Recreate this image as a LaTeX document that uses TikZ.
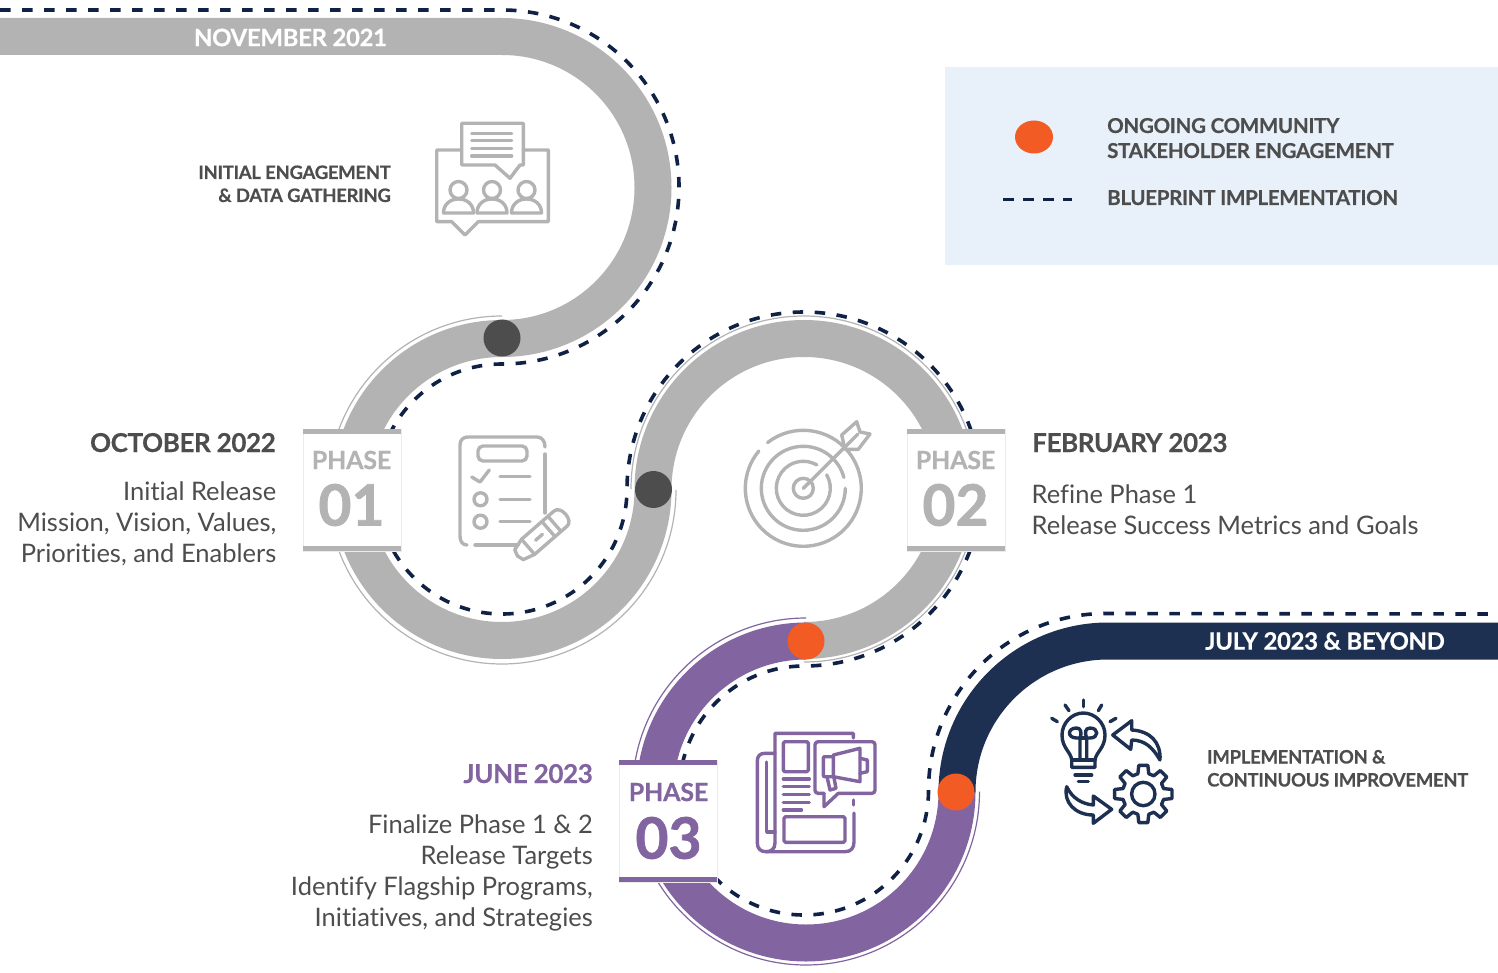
\documentclass[tikz,border=0pt]{standalone}
\usepackage{fontspec}
\setmainfont{Lato}[RawFeature={-liga}]
\newfontfamily\boldface[FakeBold=1.3]{Lato Bold}
\newfontfamily\heavytext[FakeBold=0.45,LetterSpace=-1.5]{Lato Bold}
\newfontfamily\heavytight[FakeBold=0.45,LetterSpace=-0.8]{Lato Bold}
\usetikzlibrary{calc,shapes.geometric}
\definecolor{bandgray}{HTML}{B3B3B3}
\definecolor{bandpurple}{HTML}{8264A0}
\definecolor{bandnavy}{HTML}{1D3052}
\definecolor{dashnavy}{HTML}{0F2145}
\definecolor{dotorange}{HTML}{F35B25}
\definecolor{dotdark}{HTML}{4D4D4D}
\definecolor{legendbg}{HTML}{E8F0FA}
\definecolor{textgray}{HTML}{4D4D4D}
\tikzset{
  x=1pt,y=-1pt,
  band/.style={line width=37pt},
  hairline/.style={line width=1.2pt},
  route/.style={line width=3.6pt,dashnavy,dash pattern=on 10.5pt off 11.5pt},
  dot/.style={circle,fill=#1,minimum size=37pt,inner sep=0pt},
  icon/.style={line width=3.4pt,line cap=round,line join=round,#1},
  phasehead/.style={inner sep=0pt,font=\fontsize{26}{31}\heavytext},
  phasebody/.style={inner sep=0pt,text=textgray,font=\fontsize{25.5}{31}\selectfont},
  captext/.style={inner sep=0pt,text=textgray,font=\fontsize{18.5}{23}\heavytext},
  legendtext/.style={inner sep=0pt,text=textgray,font=\fontsize{20.5}{25}\heavytext},
  bandlabel/.style={inner sep=0pt,text=white,font=\fontsize{24}{28}\heavytext},
  phasebox/.style={fill=white,draw=black!8,line width=.5pt,minimum width=98pt,minimum height=122pt,inner sep=0pt},
  phaseword/.style={inner sep=0pt,font=\fontsize{25}{30}\heavytight},
  phasenum/.style={inner sep=0pt,font=\fontsize{57}{60}\boldface},
}
\newcommand{\phasecard}[3]{%
  \node[phasebox] (#2box) at (#1) {};
  \fill[#3] (#2box.north west) rectangle ($(#2box.north east)+(0,5)$);
  \fill[#3] ($(#2box.south west)+(0,-5)$) rectangle (#2box.south east);
}
\begin{document}
\begin{tikzpicture}
\useasboundingbox (0,0) rectangle (1498,973);
% legend
\fill[legendbg] (945,67) rectangle (1498,265);
% bands
\draw[band,bandgray] (0,36.5) -- (502,36.5) arc[start angle=-90,end angle=90,radius=151]
  arc[start angle=270,end angle=0,radius=151]
  arc[start angle=180,end angle=450,radius=151];
\draw[band,bandpurple] (806,641) arc[start angle=270,end angle=0,radius=151];
\draw[band,bandnavy] (957,792) arc[start angle=180,end angle=270,radius=151] -- (1498,641);
% hairlines
\draw[hairline,bandgray] (502,316) arc[start angle=270,end angle=0,radius=174];
\draw[hairline,bandgray] (631,489) arc[start angle=180,end angle=450,radius=173];
\draw[hairline,bandpurple] (806,618) arc[start angle=270,end angle=0,radius=173.5];
% route
\draw[route] (0,10) -- (502,10) arc[start angle=-90,end angle=90,radius=177]
  arc[start angle=270,end angle=0,radius=125]
  arc[start angle=180,end angle=450,radius=177]
  arc[start angle=270,end angle=0,radius=124.5]
  arc[start angle=180,end angle=270,radius=177] -- (1498,614);
% phase cards
\phasecard{352,490}{pa}{bandgray}
\phasecard{956,490}{pb}{bandgray}
\phasecard{668,821}{pc}{bandpurple}
\node[phaseword,text=bandgray] at (351.5,460) {PHASE};
\node[phasenum,text=bandgray] at (351.5,505) {01};
\node[phaseword,text=bandgray] at (955.5,460) {PHASE};
\node[phasenum,text=bandgray] at (955.5,505) {02};
\node[phaseword,text=bandpurple] at (668.5,792) {PHASE};
\node[phasenum,text=bandpurple] at (668.5,838) {03};
% dots
\node[dot=dotdark] (d1) at (502,338) {};
\node[dot=dotdark] (d2) at (653.5,489.5) {};
\node[dot=dotorange] (o1) at (806,641) {};
\node[dot=dotorange] (o2) at (956,792) {};
% legend content
\node[ellipse,fill=dotorange,minimum width=38pt,minimum height=33pt,inner sep=0pt] (lk) at (1034,137) {};
\coordinate (la) at (1003,200);
\coordinate (lb) at (1072,200);
\draw[line width=3pt,dashnavy,dash pattern=on 11pt off 9pt] (la) -- (lb);
\node[legendtext,anchor=base west,align=left] (lt1) at (1107,158) {ONGOING COMMUNITY\\STAKEHOLDER ENGAGEMENT};
\node[legendtext,anchor=base west] (lt2) at (1107,205) {BLUEPRINT IMPLEMENTATION};
% band labels
\node[bandlabel] (nov) at (290.5,37.5) {NOVEMBER 2021};
\node[bandlabel] (jul) at (1325,641) {JULY 2023 \& BEYOND};
% captions
\node[captext,anchor=base east,align=right] (c1) at (391,202) {INITIAL ENGAGEMENT\\\& DATA GATHERING};
\node[captext,anchor=base west,align=left] (c2) at (1207,786.5) {IMPLEMENTATION \&\\CONTINUOUS IMPROVEMENT};
% phase texts
\node[phasehead,text=textgray,anchor=base east] (h1) at (276,452) {OCTOBER 2022};
\node[phasebody,anchor=base east,align=right] (b1) at (276.5,562) {Initial Release\\Mission, Vision, Values,\\Priorities, and Enablers};
\node[phasehead,text=textgray,anchor=base west] (h2) at (1032,452) {FEBRUARY 2023};
\node[phasebody,anchor=base west,align=left] (b2) at (1031.5,534) {Refine Phase 1\\Release Success Metrics and Goals};
\node[phasehead,text=bandpurple,anchor=base east] (h3) at (593,783) {JUNE 2023};
\node[phasebody,anchor=base east,align=right] (b3) at (593,926) {Finalize Phase 1 \& 2\\Release Targets\\Identify Flagship Programs,\\Initiatives, and Strategies};
% icon: people
\begin{scope}[icon=bandgray]
\draw (461.7,150) -- (436.7,150) -- (436.7,221.7) -- (451.7,221.7) -- (465,235) -- (478.3,221.7) -- (548.3,221.7) -- (548.3,150) -- (523.3,150);
\draw[fill=white] (461.7,123.3) -- (523.3,123.3) -- (523.3,165) -- (520,165) -- (510,178.3) -- (495,165) -- (461.7,165) -- cycle;
\foreach \yy in {133.3,140.7,148.3,156} \draw (471.7,\yy) -- (511.7,\yy);
\foreach \xx in {458.5,492,526.5} {
  \draw (\xx,190) circle[radius=8.5];
  \draw (\xx-15,213) .. controls (\xx-15,204) and (\xx-8,199) .. (\xx,199) .. controls (\xx+8,199) and (\xx+15,204) .. (\xx+15,213) -- cycle;
}
\end{scope}
% icon: clipboard
\begin{scope}[icon=bandgray]
\draw (545,447) .. controls (545,440) and (541,437) .. (537,437) -- (468,437) .. controls (463,437) and (460,440) .. (460,445) -- (460,536) .. controls (460,542) and (463,545) .. (467,545);
\draw (545,454) -- (545,513);
\draw (475,545) -- (518,545);
\draw[rounded corners=5pt] (478,446) rectangle (527,461);
\draw (471.7,477) -- (480,482) -- (489.3,470);
\foreach \yy in {476.7,499.3,521.7} \draw (500,\yy) -- (530,\yy);
\draw (480.5,499.3) circle[radius=6.5];
\draw (480.5,521.7) circle[radius=6.5];
\begin{scope}[shift={(517.5,556)},rotate=41]
\draw (0,0) -- (2,-6.5) -- (14,-10) -- (57,-10) .. controls (66,-10) and (66,10) .. (57,10) -- (14,10) -- (2,6.5) -- cycle;
\draw (14,-10) -- (14,10);
\draw (41,-10) -- (41,10);
\draw (49,-10) -- (49,10);
\draw (24,0) -- (33,0);
\end{scope}
\end{scope}
% icon: target
\begin{scope}[icon=bandgray]
\draw (803.3,488.3) ++(232:58) arc[start angle=232,end angle=580,radius=58];
\draw (803.3,488.3) ++(0:42) arc[start angle=0,end angle=345,radius=42];
\draw (803.3,488.3) ++(-30:27) arc[start angle=-30,end angle=300,radius=27];
\draw (803.3,488.3) circle[radius=10];
\draw (803.3,488.3) -- (858,434);
\draw (841.7,435) -- (856.7,421.7) -- (860,432) -- (870,434) -- (858.3,449.3) -- (845,449.3) -- cycle;
\end{scope}
% icon: newspaper
\begin{scope}[icon=bandpurple]
\draw (853.3,738) -- (853.3,733.3) -- (775,733.3) -- (775,843) .. controls (775,849) and (771,851.7) .. (766,851.7);
\draw (775,753.3) -- (765,753.3) .. controls (760,753.3) and (757.3,756) .. (757.3,761) -- (757.3,843) .. controls (757.3,849) and (761,851.7) .. (766,851.7) -- (845,851.7) .. controls (851,851.7) and (854,848) .. (854,842) -- (854,813);
\draw (853.3,800) -- (853.3,805);
\draw (766.7,762) -- (766.7,832) -- (775,832);
\draw[rounded corners=1.5pt] (783.3,741.7) rectangle (808.3,771.7);
\foreach \yy in {779,786.7,794.3,802.3} \draw (783.3,\yy) -- (809.3,\yy);
\draw (783.3,810) -- (801.5,810);
\draw[rounded corners=1.5pt] (784,816.7) rectangle (845,842.3);
\draw[rounded corners=3pt] (838.3,793.3) -- (875,793.3) -- (875,741.7) -- (815,741.7) -- (815,793.3) -- (824,793.3);
\draw (838.3,793.3) -- (824,806.7) -- (824,793.3);
\draw (833.3,755) -- (860,748.3) -- (860,781.7) -- (833.3,776.7) -- cycle;
\draw[rounded corners=1pt] (833.3,756.7) -- (823.3,756.7) -- (823.3,776.7) -- (833.3,776.7);
\draw (827.3,778) -- (830,790) -- (836,788.3) -- (834,778);
\draw (860,758.3) -- (867.3,760) -- (867.3,771.7) -- (860,773.3);
\end{scope}
% icon: bulb, arrows, gear
\begin{scope}[icon=bandnavy]
\draw (1083.3,700) -- (1083.3,706.7);
\draw (1065,705) -- (1069,710.7);
\draw (1101.7,705) -- (1098.3,710.7);
\draw (1051.7,718.3) -- (1057.3,721.7);
\draw (1116,718.3) -- (1110,721.7);
\draw (1071.7,767.3) -- (1071.7,760) .. controls (1071,752) and (1062,748) .. (1062,735) .. controls (1062,723) and (1072,713) .. (1083.3,713) .. controls (1095,713) and (1105,723) .. (1105,735) .. controls (1105,748) and (1096,752) .. (1095,760) -- (1095,767.3) -- cycle;
\draw (1071.7,760) -- (1095,760);
\draw (1075,775) -- (1091.7,775);
\draw (1078.3,781.7) -- (1088.3,781.7);
\draw (1080,760) -- (1080,738) -- (1076.7,738) .. controls (1067,738) and (1067,728) .. (1076.7,728) .. controls (1081,728) and (1082,733) .. (1080,738);
\draw (1086.7,760) -- (1086.7,738) -- (1090,738) .. controls (1099,738) and (1099,728) .. (1090,728) .. controls (1085,728) and (1084.5,733) .. (1086.7,738);
\draw (1080,738) -- (1086.7,738);
\draw (1160,760) .. controls (1161,742) and (1150,731) .. (1131.7,730) -- (1131.7,720.7) -- (1112.7,735) -- (1130.7,749.3) -- (1131.7,740) .. controls (1145,740) and (1153,748) .. (1160,760);
\draw (1066.7,786.7) .. controls (1063,802) and (1075,815) .. (1093.3,815) -- (1093.3,823.3) -- (1111.7,809.3) -- (1093.3,796) -- (1093.3,805) .. controls (1082,804) and (1072,798) .. (1066.7,786.7);
\draw (1143.3,794) circle[radius=11.7];
\draw ({1143.3+29*cos(-9)},{794+29*sin(-9)})
  \foreach \a in {0,45,...,315} {
    -- ({1143.3+29*cos(\a-9)},{794+29*sin(\a-9)})
    -- ({1143.3+29*cos(\a+9)},{794+29*sin(\a+9)})
    -- ({1143.3+21*cos(\a+15)},{794+21*sin(\a+15)})
    -- ({1143.3+21*cos(\a+30)},{794+21*sin(\a+30)})
  } -- cycle;
\end{scope}
\end{tikzpicture}
\end{document}
